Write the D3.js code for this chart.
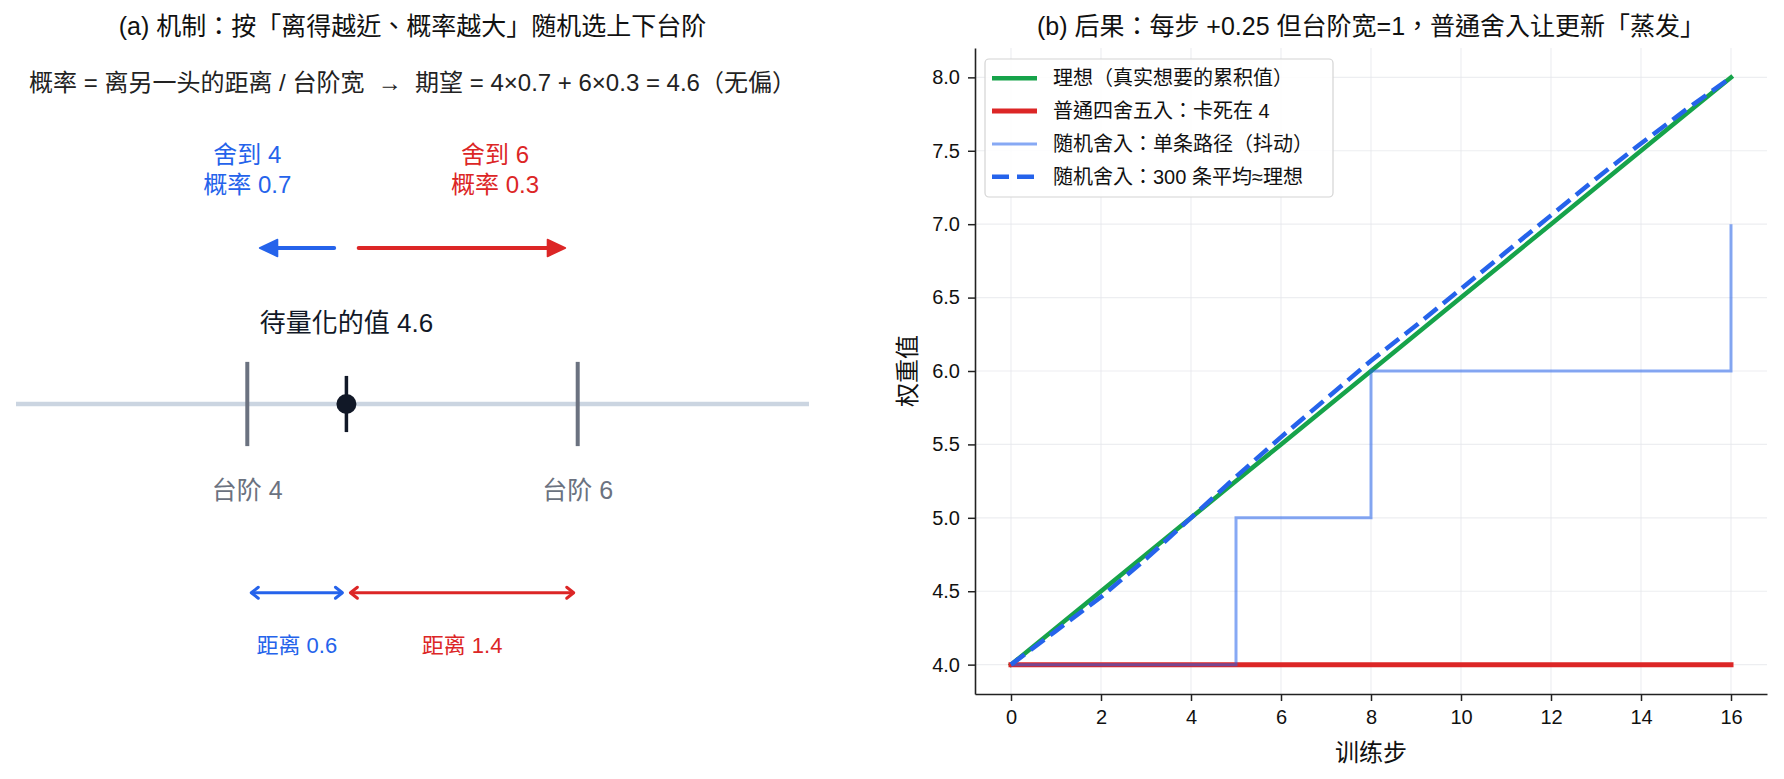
<!DOCTYPE html>
<html><head><meta charset="utf-8">
<script src="https://cdn.jsdelivr.net/npm/d3@7"></script>
<style>
body{margin:0;background:#fff}
svg{display:block}
text{font-family:"Liberation Sans","Noto Sans CJK TC",sans-serif;white-space:pre}
</style>
</head><body>
<svg id="c" width="1784" height="779"></svg>
<script>
// ---------- data: panel (b) ----------
const steps = [0,1,2,3,4,5,6,7,8,9,10,11,12,13,14,15,16];
const idealValues = [4.00,4.25,4.50,4.75,5.00,5.25,5.50,5.75,6.00,6.25,6.50,6.75,7.00,7.25,7.50,7.75,8.00];
const nearestValues = [4,4,4,4,4,4,4,4,4,4,4,4,4,4,4,4,4];
const singlePathValues = [4,4,4,4,4,5,5,5,6,6,6,6,6,6,6,6,7];
const averageValues = [4.00,4.23,4.46,4.72,5.00,5.28,5.55,5.81,6.07,6.31,6.56,6.81,7.06,7.31,7.55,7.78,8.00];
const xTickValues = [0,2,4,6,8,10,12,14,16];
const yTickValues = [4.0,4.5,5.0,5.5,6.0,6.5,7.0,7.5,8.0];
const seriesLabels = ["理想（真实想要的累积值）","普通四舍五入：卡死在 4","随机舍入：单条路径（抖动）","随机舍入：300 条平均≈理想"];
const titleB = "(b) 后果：每步 +0.25 但台阶宽=1，普通舍入让更新「蒸发」";
const xLabelB = "训练步";
const yLabelB = "权重值";

// ---------- data: panel (a) ----------
const stepLevels = [4, 6];
const stepLabels = ["台阶 4", "台阶 6"];
const pointValue = 4.6;
const pointLabel = "待量化的值 4.6";
const probLabels = [["舍到 4","概率 0.7"],["舍到 6","概率 0.3"]];
const probLabelX = [4.0, 5.5];
const distLabels = ["距离 0.6", "距离 1.4"];
const titleA = "(a) 机制：按「离得越近、概率越大」随机选上下台阶";
const formulaA = "概率 = 离另一头的距离 / 台阶宽  →  期望 = 4×0.7 + 6×0.3 = 4.6（无偏）";

const BLUE = "#2563eb", RED = "#dc2626", GREEN = "#16a34a";
const svg = d3.select("#c");

// ================= panel (b) =================
const x = d3.scaleLinear().domain([-0.8, 16.8]).range([975, 1767]);
const y = d3.scaleLinear().domain([3.8, 8.2]).range([694, 48]);
const gB = svg.append("g");

// grid
gB.selectAll(".gx").data(xTickValues).join("line")
  .attr("x1", d => x(d)).attr("x2", d => x(d)).attr("y1", y(3.8)).attr("y2", y(8.2))
  .attr("stroke", "#e5e7eb").attr("stroke-opacity", 0.7).attr("stroke-width", 1.2);
gB.selectAll(".gy").data(yTickValues).join("line")
  .attr("x1", x(-0.8)).attr("x2", x(16.8)).attr("y1", d => y(d)).attr("y2", d => y(d))
  .attr("stroke", "#e5e7eb").attr("stroke-opacity", 0.7).attr("stroke-width", 1.2);

const line = d3.line().x((d, i) => x(steps[i])).y(d => y(d));
gB.append("path").attr("d", line(idealValues)).attr("fill", "none")
  .attr("stroke", GREEN).attr("stroke-width", 4.5).attr("stroke-linecap", "square");
gB.append("path").attr("d", line(nearestValues)).attr("fill", "none")
  .attr("stroke", RED).attr("stroke-width", 5).attr("stroke-linecap", "square");
gB.append("path").attr("d", d3.line().x((d, i) => x(steps[i])).y(d => y(d)).curve(d3.curveStepAfter)(singlePathValues))
  .attr("fill", "none").attr("stroke", BLUE).attr("stroke-opacity", 0.55).attr("stroke-width", 3);
gB.append("path").attr("d", line(averageValues)).attr("fill", "none")
  .attr("stroke", BLUE).attr("stroke-width", 4.5).attr("stroke-dasharray", "17,7.5");

// axes
const xAxis = gB.append("g").attr("transform", `translate(0,${y(3.8)})`)
  .call(d3.axisBottom(x).tickValues(xTickValues).tickFormat(d3.format("d")).tickSize(7).tickSizeOuter(0).tickPadding(9));
const yAxis = gB.append("g").attr("transform", `translate(${x(-0.8)},0)`)
  .call(d3.axisLeft(y).tickValues(yTickValues).tickFormat(d3.format(".1f")).tickSize(7).tickSizeOuter(0).tickPadding(8));
[xAxis, yAxis].forEach(a => {
  a.select(".domain").attr("stroke", "#222").attr("stroke-width", 1.6);
  a.selectAll(".tick line").attr("stroke", "#222").attr("stroke-width", 1.5);
  a.selectAll(".tick text").attr("fill", "#111").style("font-size", "20px")
    .style("font-family", '"Liberation Sans","Noto Sans CJK TC",sans-serif');
});

gB.append("text").attr("x", (x(-0.8) + x(16.8)) / 2).attr("y", 752).attr("text-anchor", "middle")
  .attr("dominant-baseline", "central").style("font-size", "24px").attr("fill", "#111").text(xLabelB);
gB.append("text").attr("transform", `translate(907,${(y(3.8) + y(8.2)) / 2}) rotate(-90)`)
  .attr("text-anchor", "middle").attr("dominant-baseline", "central").style("font-size", "24px").attr("fill", "#111").text(yLabelB);
gB.append("text").attr("x", (x(-0.8) + x(16.8)) / 2).attr("y", 26).attr("text-anchor", "middle")
  .attr("dominant-baseline", "central").style("font-size", "25px").attr("fill", "#111").text(titleB);

// legend
const leg = gB.append("g");
leg.append("rect").attr("x", 985).attr("y", 59).attr("width", 348).attr("height", 138).attr("rx", 4)
  .attr("fill", "#fff").attr("fill-opacity", 0.85).attr("stroke", "#d4d4d4").attr("stroke-width", 1.2);
const legStyles = [
  {c: GREEN, w: 4.5, o: 1, dash: null},
  {c: RED, w: 5, o: 1, dash: null},
  {c: BLUE, w: 3, o: 0.55, dash: null},
  {c: BLUE, w: 4.5, o: 1, dash: "17,8"}
];
seriesLabels.forEach((lab, i) => {
  const yy = 78.3 + i * 32.8;
  const s = legStyles[i];
  leg.append("line").attr("x1", 992).attr("x2", 1037).attr("y1", yy).attr("y2", yy)
    .attr("stroke", s.c).attr("stroke-opacity", s.o).attr("stroke-width", s.w)
    .attr("stroke-dasharray", s.dash);
  leg.append("text").attr("x", 1053).attr("y", yy).attr("dominant-baseline", "central")
    .style("font-size", "20px").attr("fill", "#111").text(lab);
});

// ================= panel (a) =================
const xL = d3.scaleLinear().domain([2.6, 7.4]).range([16, 809]);
const yL = d3.scaleLinear().domain([-2, 2]).range([716, 92]);
const gA = svg.append("g");

gA.append("text").attr("x", xL(5.0)).attr("y", 26).attr("text-anchor", "middle")
  .attr("dominant-baseline", "central").style("font-size", "25px").attr("fill", "#111").text(titleA);
gA.append("text").attr("x", xL(5.0)).attr("y", yL(2.06)).attr("text-anchor", "middle")
  .attr("dominant-baseline", "central").style("font-size", "24px").attr("fill", "#222").text(formulaA);

// number line
gA.append("line").attr("x1", xL(2.6)).attr("x2", xL(7.4)).attr("y1", yL(0)).attr("y2", yL(0))
  .attr("stroke", "#cbd5e1").attr("stroke-width", 4.5);
gA.selectAll(".st").data(stepLevels).join("line")
  .attr("x1", d => xL(d)).attr("x2", d => xL(d)).attr("y1", yL(0.27)).attr("y2", yL(-0.27))
  .attr("stroke", "#6b7280").attr("stroke-width", 4);
gA.selectAll(".sl").data(stepLevels).join("text")
  .attr("x", d => xL(d)).attr("y", yL(-0.55)).attr("text-anchor", "middle").attr("dominant-baseline", "central")
  .style("font-size", "25px").attr("fill", "#6b7280").text((d, i) => stepLabels[i]);
gA.append("line").attr("x1", xL(pointValue)).attr("x2", xL(pointValue)).attr("y1", yL(0.18)).attr("y2", yL(-0.18))
  .attr("stroke", "#111827").attr("stroke-width", 3.5);
gA.append("circle").attr("cx", xL(pointValue)).attr("cy", yL(0)).attr("r", 10).attr("fill", "#111827");
gA.append("text").attr("x", xL(pointValue)).attr("y", yL(0.52)).attr("text-anchor", "middle")
  .attr("dominant-baseline", "central").style("font-size", "26px").attr("fill", "#111827").text(pointLabel);

// probability labels
probLabels.forEach((pair, i) => {
  const col = i === 0 ? BLUE : RED;
  pair.forEach((t, j) => {
    gA.append("text").attr("x", xL(probLabelX[i])).attr("y", yL(1.6 - j * 0.19)).attr("text-anchor", "middle")
      .attr("dominant-baseline", "central").style("font-size", "24px").attr("fill", col).text(t);
  });
});

// arrows
function filledArrow(x0, x1, yy, col) {
  const shrink = 4, hl = 18, hw = 8.5;
  const dir = Math.sign(x1 - x0);
  const a = x0 + dir * shrink, tip = x1 - dir * shrink, base = tip - dir * hl;
  gA.append("line").attr("x1", a).attr("x2", base + dir * 1).attr("y1", yy).attr("y2", yy)
    .attr("stroke", col).attr("stroke-width", 4).attr("stroke-linecap", "round");
  gA.append("path").attr("d", `M${tip},${yy} L${base},${yy - hw} L${base},${yy + hw} Z`)
    .attr("fill", col).attr("stroke", col).attr("stroke-width", 1.5).attr("stroke-linejoin", "round");
}
function doubleArrow(x0, x1, yy, col) {
  const shrink = 4, hl = 7, hw = 5.5;
  const a = x0 + shrink, b = x1 - shrink;
  gA.append("line").attr("x1", a).attr("x2", b).attr("y1", yy).attr("y2", yy)
    .attr("stroke", col).attr("stroke-width", 3);
  gA.append("path").attr("d", `M${a + hl},${yy - hw} L${a},${yy} L${a + hl},${yy + hw}`)
    .attr("fill", "none").attr("stroke", col).attr("stroke-width", 3).attr("stroke-linejoin", "round").attr("stroke-linecap", "round");
  gA.append("path").attr("d", `M${b - hl},${yy - hw} L${b},${yy} L${b - hl},${yy + hw}`)
    .attr("fill", "none").attr("stroke", col).attr("stroke-width", 3).attr("stroke-linejoin", "round").attr("stroke-linecap", "round");
}
filledArrow(xL(pointValue - 0.05), xL(4.05), yL(1.0), BLUE);
filledArrow(xL(pointValue + 0.05), xL(5.95), yL(1.0), RED);
doubleArrow(xL(stepLevels[0]), xL(pointValue), yL(-1.21), BLUE);
doubleArrow(xL(pointValue), xL(stepLevels[1]), yL(-1.21), RED);
gA.append("text").attr("x", xL((stepLevels[0] + pointValue) / 2)).attr("y", yL(-1.55)).attr("text-anchor", "middle")
  .attr("dominant-baseline", "central").style("font-size", "22px").attr("fill", BLUE).text(distLabels[0]);
gA.append("text").attr("x", xL((stepLevels[1] + pointValue) / 2)).attr("y", yL(-1.55)).attr("text-anchor", "middle")
  .attr("dominant-baseline", "central").style("font-size", "22px").attr("fill", RED).text(distLabels[1]);
</script>
</body></html>
